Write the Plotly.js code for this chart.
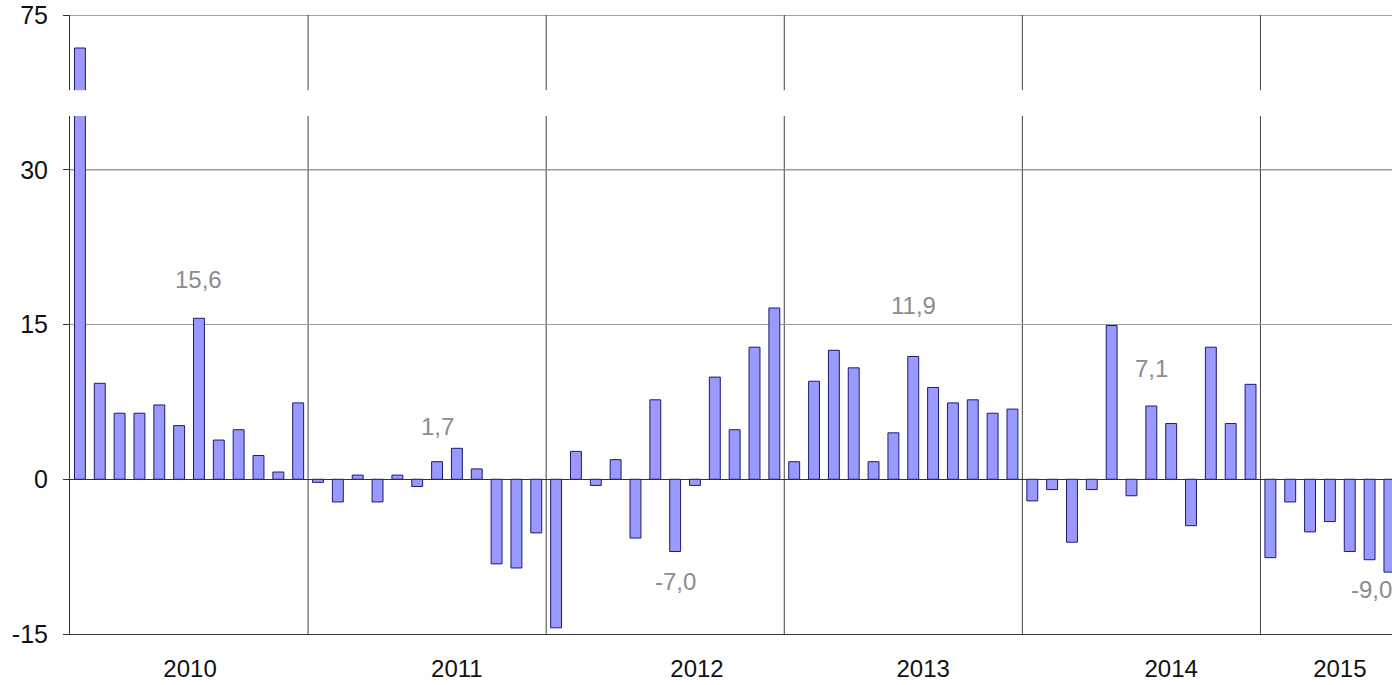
<!DOCTYPE html>
<html>
<head>
<meta charset="utf-8">
<script src="https://cdn.plot.ly/plotly-3.0.1.min.js"></script>
<style>html,body{margin:0;padding:0;background:#fff;}#chart{width:1392px;height:685px;}</style>
</head>
<body>
<div id="chart"></div>
<script>
// Monthly values, Jan 2010 .. Jul 2015
const values2010 = [65.4, 9.3, 6.4, 6.4, 7.2, 5.2, 15.6, 3.8, 4.8, 2.3, 0.7, 7.4];
const values2011 = [-0.3, -2.2, 0.4, -2.2, 0.4, -0.7, 1.7, 3.0, 1.0, -8.2, -8.6, -5.2];
const values2012 = [-14.4, 2.7, -0.6, 1.9, -5.7, 7.7, -7.0, -0.6, 9.9, 4.8, 12.8, 16.6];
const values2013 = [1.7, 9.5, 12.5, 10.8, 1.7, 4.5, 11.9, 8.9, 7.4, 7.7, 6.4, 6.8];
const values2014 = [-2.1, -1.0, -6.1, -1.0, 14.9, -1.6, 7.1, 5.4, -4.5, 12.8, 5.4, 9.2];
const values2015 = [-7.6, -2.2, -5.1, -4.1, -7.0, -7.8, -9.0];
const years = ['2010', '2011', '2012', '2013', '2014', '2015'];
const yTickValues = [-15, 0, 15, 30, 75];
const labelledMonth = 6; // July of each year is labelled

const allValues = [].concat(values2010, values2011, values2012, values2013, values2014, values2015);
const monthIndex = allValues.map((v, i) => i);

// broken axis: above 30 the scale is compressed by 3
const BREAK = 30, COMPRESS = 3;
const tf = v => v > BREAK ? BREAK + (v - BREAK) / COMPRESS : v;

const trace = {
  type: 'bar',
  x: monthIndex,
  y: allValues.map(tf),
  width: 0.55,
  marker: {color: '#9999ff', line: {color: '#1c1c6e', width: 1}},
  hoverinfo: 'skip'
};

const yearTickPos = [5.55, 19.0, 31.1, 42.5, 55.0, 63.5];

const labelShift = [39, 35, -30, 51, 38, -17];
const labelXShift = [0, 0, 0, 0, 0, -18];
const annotations = years.map((yr, k) => {
  const idx = k * 12 + labelledMonth;
  const v = allValues[idx];
  return {
    x: idx, y: tf(v), xref: 'x', yref: 'y',
    text: v.toFixed(1).replace('.', ','),
    showarrow: false, yshift: labelShift[k], xshift: labelXShift[k],
    font: {family: 'Liberation Sans, Arial, sans-serif', size: 24, color: '#8c8c8c'}
  };
});

const shapes = [];
for (let k = 1; k < years.length; k++) {
  shapes.push({type: 'line', xref: 'x', yref: 'paper', x0: k * 12 - 0.5, x1: k * 12 - 0.5, y0: 0, y1: 1,
    line: {color: '#444', width: 1}, layer: 'below'});
}
[30, 45].forEach(t => shapes.push({type: 'line', xref: 'paper', yref: 'y', x0: 0, x1: 1, y0: t, y1: t,
  line: {color: '#444', width: 1}, layer: 'below'}));
// axis break band
shapes.push({type: 'rect', xref: 'paper', yref: 'y', x0: -0.004, x1: 1, y0: 35.2, y1: 37.7,
  fillcolor: '#ffffff', line: {width: 0}, layer: 'above'});

const layout = {
  width: 1392, height: 685,
  margin: {l: 70, r: 0, t: 15, b: 51},
  paper_bgcolor: '#ffffff', plot_bgcolor: '#ffffff',
  showlegend: false,
  font: {family: 'Liberation Sans, Arial, sans-serif', color: '#111'},
  xaxis: {
    range: [-0.5, 66.13],
    tickvals: yearTickPos, ticktext: years,
    showgrid: false, zeroline: false,
    showline: true, linecolor: '#333', linewidth: 1,
    ticks: '', ticklabelstandoff: 13,
    tickfont: {size: 24, color: '#111'}
  },
  yaxis: {
    range: [-15, 45],
    tickvals: yTickValues.map(tf), ticktext: yTickValues.map(String),
    showgrid: true, gridcolor: '#9a9a9a', gridwidth: 1,
    zeroline: true, zerolinecolor: '#333', zerolinewidth: 1,
    showline: true, linecolor: '#333', linewidth: 1,
    ticks: 'outside', ticklen: 6, tickcolor: '#333',
    ticklabelstandoff: 10,
    tickfont: {size: 25, color: '#111'}
  },
  annotations: annotations,
  shapes: shapes
};

Plotly.newPlot('chart', [trace], layout, {staticPlot: true, displayModeBar: false});
</script>
</body>
</html>
